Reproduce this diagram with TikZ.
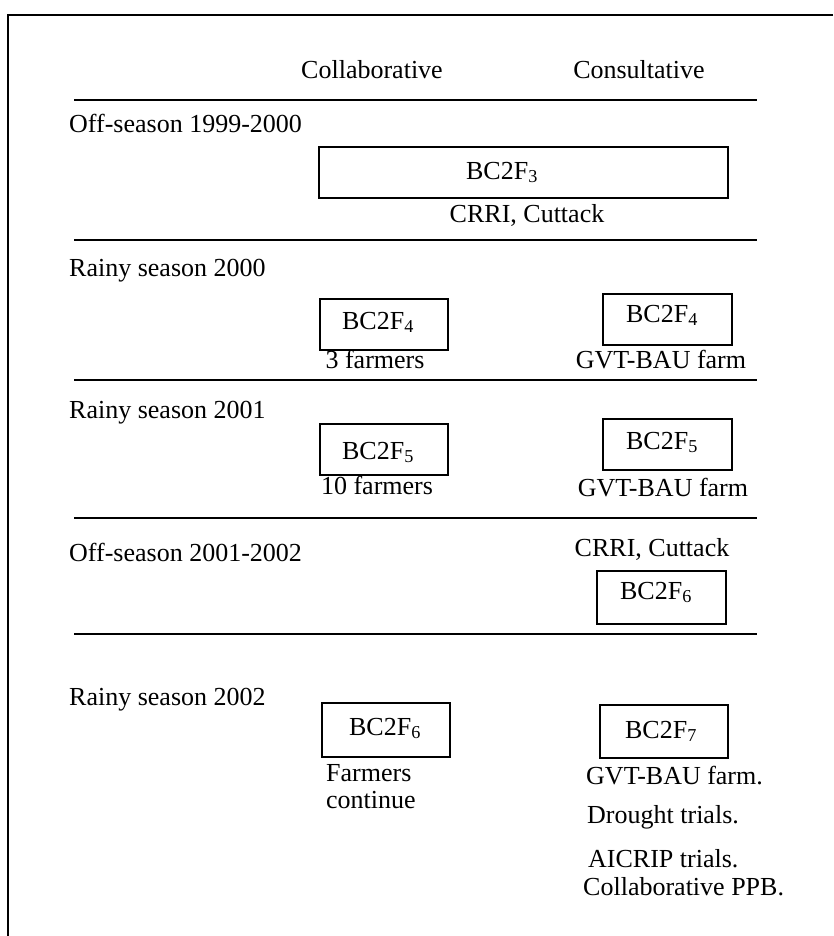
\documentclass[tikz,border=0pt]{standalone}
\usepackage{fontspec}
\setmainfont{Liberation Serif}
\begin{document}
\begin{tikzpicture}[x=1pt,y=-1pt,
  rule/.style={line width=1.6pt},
  gbox/.style={draw,line width=1.4pt},
  lbl/.style={font=\fontsize{26}{30}\selectfont,inner sep=0pt,anchor=base},
  lblw/.style={lbl,anchor=base west}]
\useasboundingbox (0,0) rectangle (833,936);
% frame (cropped on right and bottom)
\coordinate (ftr) at (833,15);
\coordinate (ftl) at (8,15);
\coordinate (fbl) at (8,936);
\draw[line width=1.6pt] (ftr) -- (ftl) -- (fbl);
% headers
\node[lbl] (hcol) at (372,79) {Collaborative};
\node[lbl] (hcon) at (639,79) {Consultative};
% rules
\foreach \n/\y in {r1/100,r2/240,r3/380,r4/518,r5/634}{
  \coordinate (\n a) at (74,\y);
  \coordinate (\n b) at (757,\y);
  \draw[rule] (\n a) -- (\n b);
}
% row 1
\node[lblw] (s1) at (69,133) {Off-season 1999-2000};
\draw[gbox] (319,147) rectangle (728,198);
\node[lbl] (b1) at (502,179) {BC2F\textsubscript{3}};
\node[lbl] (c1) at (527,222) {CRRI, Cuttack};
% row 2
\node[lblw] (s2) at (69,276) {Rainy season 2000};
\draw[gbox] (320,299) rectangle (448,350);
\node[lbl] (b2l) at (378,329) {BC2F\textsubscript{4}};
\node[lbl] (t2l) at (375,368) {3 farmers};
\draw[gbox] (603,294) rectangle (732,345);
\node[lbl] (b2r) at (662,322) {BC2F\textsubscript{4}};
\node[lbl] (t2r) at (661,368) {GVT-BAU farm};
% row 3
\node[lblw] (s3) at (69,418) {Rainy season 2001};
\draw[gbox] (320,424) rectangle (448,475);
\node[lbl] (b3l) at (378,459) {BC2F\textsubscript{5}};
\node[lbl] (t3l) at (377,494) {10 farmers};
\draw[gbox] (603,419) rectangle (732,470);
\node[lbl] (b3r) at (662,449) {BC2F\textsubscript{5}};
\node[lbl] (t3r) at (663,496) {GVT-BAU farm};
% row 4
\node[lblw] (s4) at (69,561) {Off-season 2001-2002};
\node[lbl] (c4) at (652,556) {CRRI, Cuttack};
\draw[gbox] (597,571) rectangle (726,624);
\node[lbl] (b4) at (656,599) {BC2F\textsubscript{6}};
% row 5
\node[lblw] (s5) at (69,705) {Rainy season 2002};
\draw[gbox] (322,703) rectangle (450,757);
\node[lbl] (b5l) at (385,735) {BC2F\textsubscript{6}};
\node[lblw] (f1) at (326,781) {Farmers};
\node[lblw] (f2) at (326,808) {continue};
\draw[gbox] (600,705) rectangle (728,758);
\node[lbl] (b5r) at (661,738) {BC2F\textsubscript{7}};
\node[lblw] (g1) at (586,784) {GVT-BAU farm.};
\node[lblw] (g2) at (587,823) {Drought trials.};
\node[lblw] (g3) at (588,867) {AICRIP trials.};
\node[lblw] (g4) at (583,895) {Collaborative PPB.};
\end{tikzpicture}
\end{document}
